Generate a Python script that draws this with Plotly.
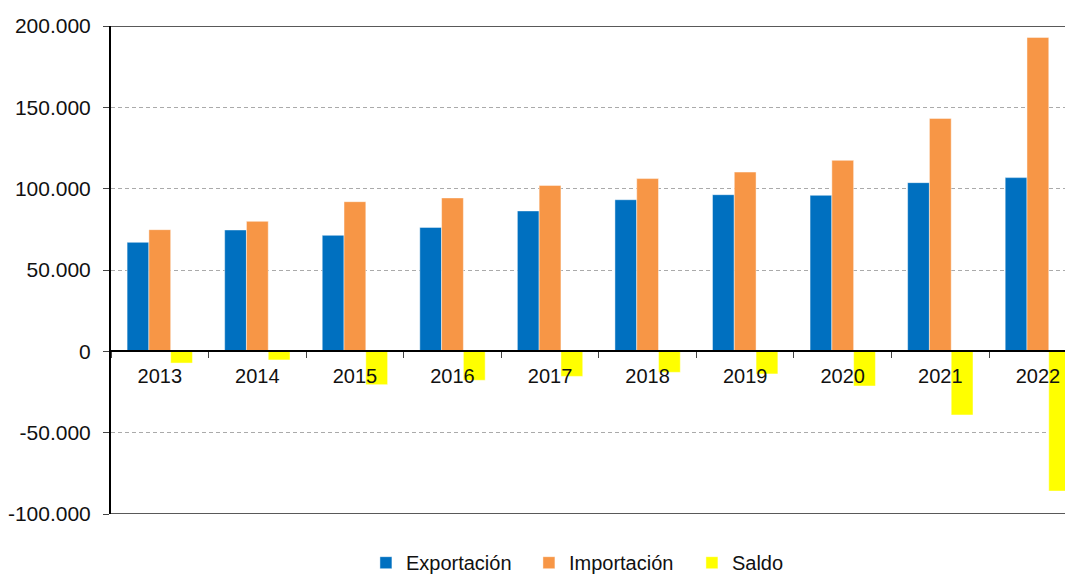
import plotly.graph_objects as go

anios = ["2013", "2014", "2015", "2016", "2017", "2018", "2019", "2020", "2021", "2022"]
exportacion = [67000, 74600, 71300, 76200, 86300, 93200, 96300, 95900, 103700, 106800]
importacion = [74800, 79900, 92000, 94300, 102000, 106200, 110200, 117400, 143200, 193000]
saldo = [-7200, -5300, -20500, -17800, -15400, -12900, -13900, -21300, -39100, -85900]

y_ticks = [-100000, -50000, 0, 50000, 100000, 150000, 200000]
y_labels = ["-100.000", "-50.000", "0", "50.000", "100.000", "150.000", "200.000"]

fuente = "Liberation Sans, Arial, sans-serif"
borde = dict(width=1, color="rgba(255,255,255,0.45)")

fig = go.Figure()
fig.add_trace(go.Bar(x=anios, y=exportacion, name="Exportación",
                     marker=dict(color="#0070C0", line=borde)))
fig.add_trace(go.Bar(x=anios, y=importacion, name="Importación",
                     marker=dict(color="#F79646", line=borde)))
fig.add_trace(go.Bar(x=anios, y=saldo, name="Saldo",
                     marker=dict(color="#FFFF00", line=borde)))

# marco superior e inferior
for v in (200000, -100000):
    fig.add_shape(type="line", xref="paper", yref="y", x0=0, x1=1, y0=v, y1=v,
                  line=dict(color="#222222", width=1.3), layer="above")

# la página tiene 8px de margen en body
fig.update_layout(
    width=1065, height=566,
    margin=dict(l=103, r=0, t=18, b=60, autoexpand=False),
    paper_bgcolor="white", plot_bgcolor="white",
    barmode="group", bargap=0.33, bargroupgap=0,
    font=dict(family=fuente, size=20, color="#111111"),
    showlegend=True,
    legend=dict(orientation="h", x=0.265, xanchor="left",
                yref="container", y=0.02, yanchor="middle",
                font=dict(size=20), itemwidth=30, traceorder="normal",
                entrywidth=118, entrywidthmode="pixels"),
    xaxis=dict(type="category", range=[-0.5, 9.36], anchor="free", position=1/3,
               showline=True, linecolor="black", linewidth=2,
               ticks="outside", tickson="boundaries", ticklen=6, tickcolor="#444444",
               showgrid=False, ticklabelstandoff=7),
    yaxis=dict(range=[-100000, 200000], tickvals=y_ticks, ticktext=y_labels,
               tickfont=dict(size=21),
               showline=True, linecolor="black", linewidth=2,
               ticks="outside", ticklen=6, tickcolor="#444444",
               showgrid=True, gridcolor="#AAAAAA", griddash="4px,3px", gridwidth=1,
               zeroline=False, ticklabelstandoff=8),
)

fig.write_html("out.html")
